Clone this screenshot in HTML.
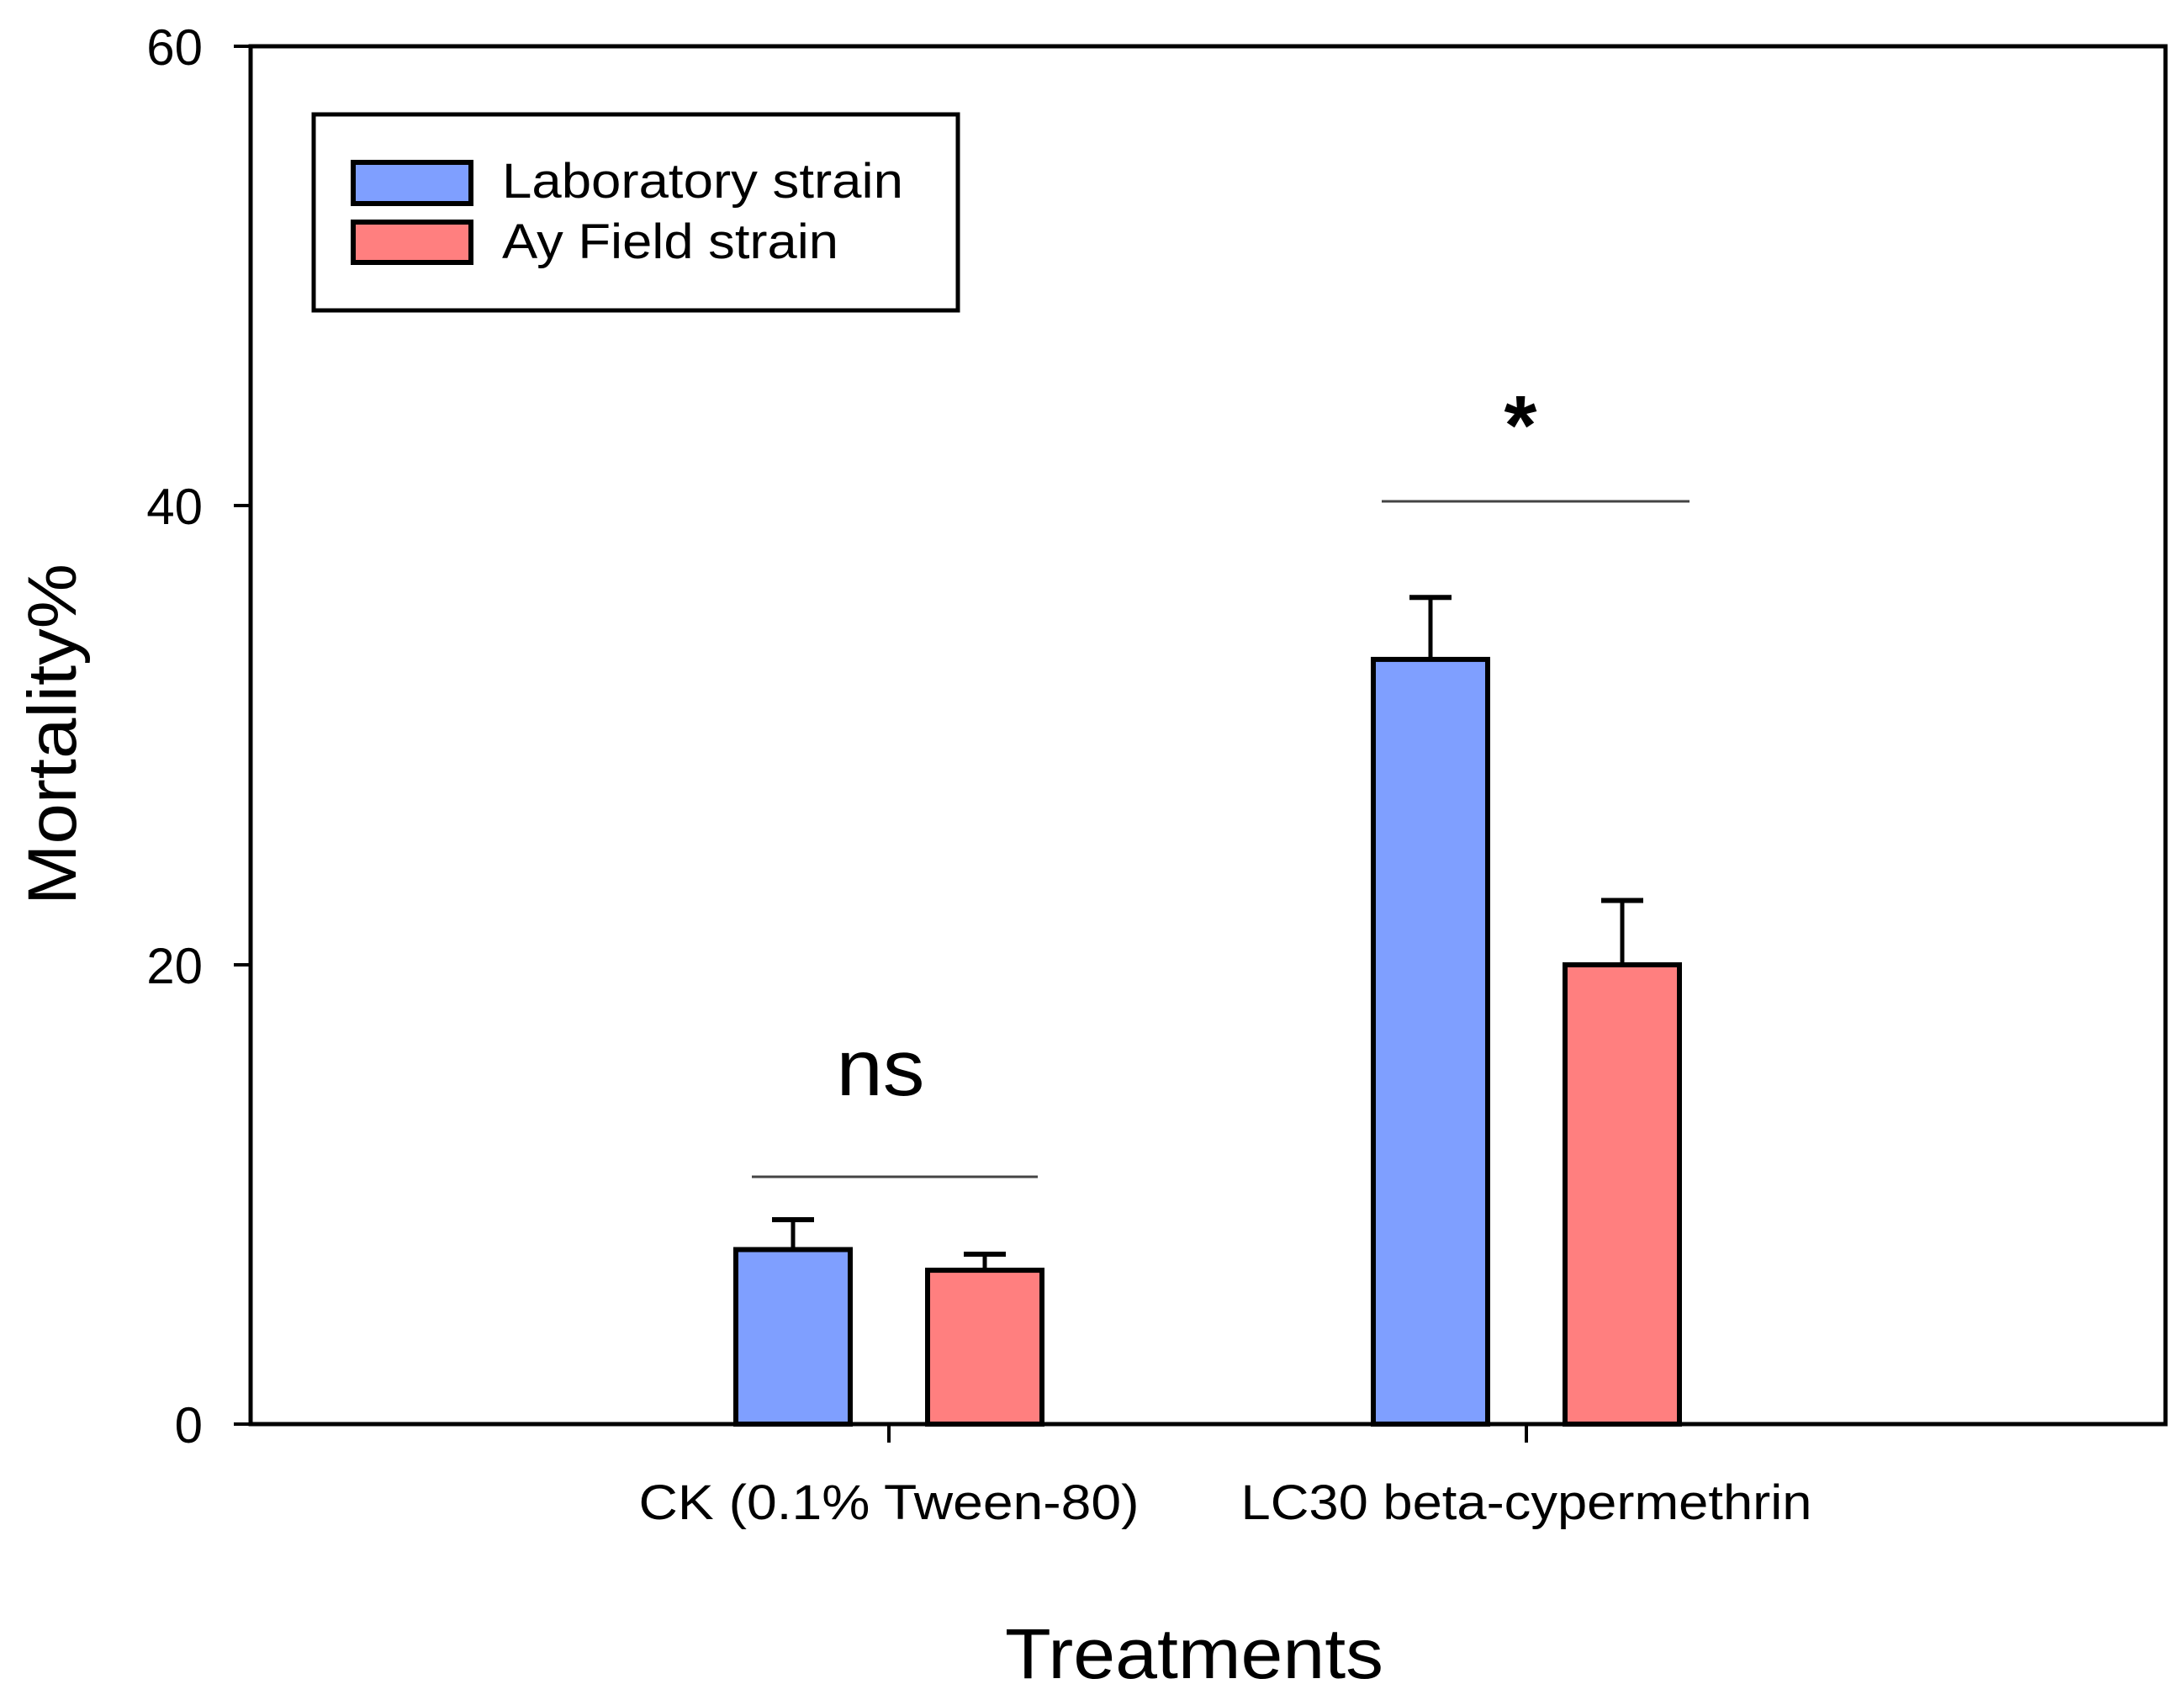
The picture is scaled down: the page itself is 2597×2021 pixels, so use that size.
<!DOCTYPE html>
<html><head><meta charset="utf-8"><style>
html,body{margin:0;padding:0;background:#fff;}
svg{display:block;font-family:"Liberation Sans",Arial,sans-serif;}
</style></head><body>
<svg id="chart" width="2597" height="2021" viewBox="0 0 2597 2021" xmlns="http://www.w3.org/2000/svg">
<rect x="0" y="0" width="2597" height="2021" fill="#fff"/>
<g id="marks"></g>
<rect x="298" y="55" width="2277" height="1638" fill="none" stroke="#000" stroke-width="5"/>
<g id="axes"></g>
<text transform="translate(90,873) rotate(-90)" text-anchor="middle" font-size="82" textLength="406" lengthAdjust="spacingAndGlyphs">Mortality%</text>
<text x="1420" y="1995" text-anchor="middle" font-size="84" textLength="450" lengthAdjust="spacingAndGlyphs">Treatments</text>
<g>
<rect x="373" y="136" width="766" height="233" fill="#fff" stroke="#000" stroke-width="5"/>
<rect x="420" y="193" width="140" height="49" fill="#7f9fff" stroke="#000" stroke-width="6"/>
<rect x="420" y="264" width="140" height="48" fill="#ff7f7f" stroke="#000" stroke-width="6"/>
<text x="597" y="235" font-size="58" textLength="477" lengthAdjust="spacingAndGlyphs">Laboratory strain</text>
<text x="597" y="307" font-size="58" textLength="400" lengthAdjust="spacingAndGlyphs">Ay Field strain</text>
</g>
<g>
<line x1="894" y1="1399" x2="1234" y2="1399" stroke="#444" stroke-width="3"/>
<text x="1047" y="1302" text-anchor="middle" font-size="95" textLength="105" lengthAdjust="spacingAndGlyphs">ns</text>
</g>
<g>
<line x1="1643" y1="596" x2="2009" y2="596" stroke="#444" stroke-width="3"/>
<text x="1808" y="540" text-anchor="middle" font-size="100" font-weight="bold">*</text>
</g>
</svg>
<script>
const categories = ["CK (0.1% Tween-80)", "LC30 beta-cypermethrin"];
const labValues = [7.6, 33.3];
const labErrors = [1.3, 2.7];
const fieldValues = [6.7, 20.0];
const fieldErrors = [0.7, 2.8];
const yTicks = [0, 20, 40, 60];

const NS = "http://www.w3.org/2000/svg";
const plotL = 298, plotR = 2575, plotT = 55, plotB = 1693;
const yMax = 60;
function yScale(v){ return plotB - v / yMax * (plotB - plotT); }
const groupCenters = [1057, 1815];
function xScale(i){ return groupCenters[i]; }
const barW = 136, offset = 114;
const labelLens = [595, 679];

function mk(tag, attrs, parent){
  const el = document.createElementNS(NS, tag);
  for (const k in attrs) el.setAttribute(k, attrs[k]);
  parent.appendChild(el);
  return el;
}
const marks = document.getElementById('marks');
const axes = document.getElementById('axes');

function drawBar(i, v, e, dx, fill, name){
  const cx = xScale(i) + dx;
  const top = yScale(v), et = yScale(v + e);
  const eb = mk('line', {x1: cx, y1: top, x2: cx, y2: et, stroke: '#000', 'stroke-width': 5}, marks);
  
  
  const cap = mk('line', {x1: cx - 25, y1: et, x2: cx + 25, y2: et, stroke: '#000', 'stroke-width': 6}, marks);
  
  
  const r = mk('rect', {x: cx - barW/2, y: top, width: barW, height: plotB - top, fill: fill, stroke: '#000', 'stroke-width': 6}, marks);
  
  
}
categories.forEach((c, i) => {
  drawBar(i, labValues[i], labErrors[i], -offset, '#7f9fff', 'bar-laboratory-' + i);
  drawBar(i, fieldValues[i], fieldErrors[i], offset, '#ff7f7f', 'bar-field-' + i);
  const t = mk('line', {x1: xScale(i), y1: plotB, x2: xScale(i), y2: plotB + 22, stroke: '#000', 'stroke-width': 4}, axes);
  
  
  const lbl = mk('text', {x: xScale(i), y: 1806, 'text-anchor': 'middle', 'font-size': 58, textLength: labelLens[i], lengthAdjust: 'spacingAndGlyphs'}, axes);
  
  
  lbl.textContent = c;
});
yTicks.forEach(v => {
  const y = yScale(v);
  const t = mk('line', {x1: plotL - 20, y1: y, x2: plotL, y2: y, stroke: '#000', 'stroke-width': 4}, axes);
  
  
  const lbl = mk('text', {x: 241, y: y + 22, 'text-anchor': 'end', 'font-size': 60}, axes);
  
  
  lbl.textContent = v;
});
</script>
</body></html>
